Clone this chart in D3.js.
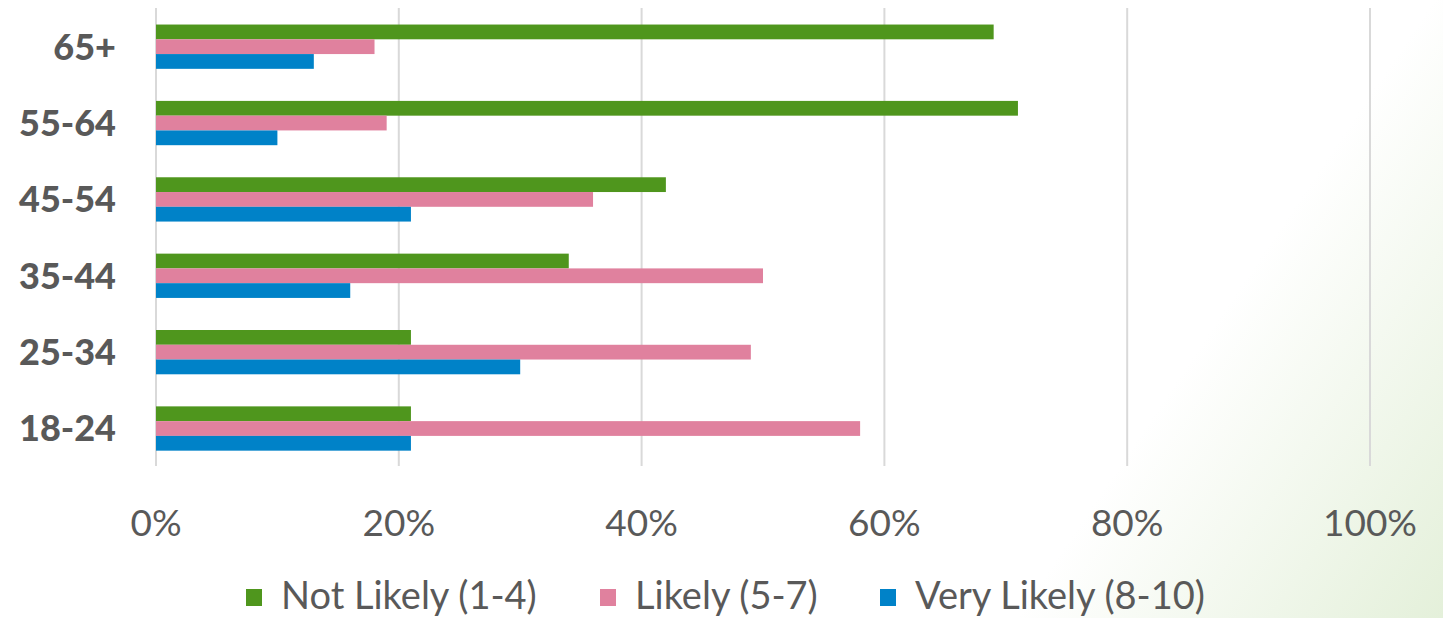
<!DOCTYPE html>
<html><head><meta charset="utf-8">
<script src="https://cdn.jsdelivr.net/npm/d3@7"></script>
<style>body{margin:0;background:#fff}svg{display:block}</style>
</head><body>
<script>
const categories = ["65+","55-64","45-54","35-44","25-34","18-24"];
const seriesNames = ["Not Likely (1-4)","Likely (5-7)","Very Likely (8-10)"];
const notLikely  = [69,71,42,34,21,21];
const likely     = [18,19,36,50,49,58];
const veryLikely = [13,10,21,16,30,21];
const tickValues = [0,20,40,60,80,100];
const colors = ["#4f961d","#e0819e","#0082c8"];

const W=1443,H=618;
const svg=d3.select("body").append("svg").attr("width",W).attr("height",H);
const defs=svg.append("defs");
const g=defs.append("linearGradient").attr("id","bg").attr("gradientUnits","userSpaceOnUse")
  .attr("x1",1150).attr("y1",420).attr("x2",1443).attr("y2",618);
g.append("stop").attr("offset","0").attr("stop-color","#ffffff");
g.append("stop").attr("offset","1").attr("stop-color","#e4f0da");
svg.append("rect").attr("width",W).attr("height",H).attr("fill","url(#bg)");

const x=d3.scaleLinear().domain([0,100]).range([156,1370]);
const y=d3.scaleBand().domain(categories).range([8.5,466.7]).paddingInner(0.42).paddingOuter(0.21);
const series=[notLikely,likely,veryLikely];
const ys=d3.scaleBand().domain([0,1,2]).range([0,y.bandwidth()]);

svg.append("g").selectAll("line").data(tickValues).join("line")
  .attr("x1",d=>x(d)).attr("x2",d=>x(d)).attr("y1",8).attr("y2",466)
  .attr("stroke","#d9d9d9").attr("stroke-width",2);

series.forEach((arr,si)=>{
  svg.append("g").selectAll("rect").data(arr).join("rect")
    .attr("x",x(0)).attr("y",(d,i)=>y(categories[i])+ys(si))
    .attr("width",d=>x(d)-x(0)).attr("height",ys.bandwidth())
    .attr("fill",colors[si]);
});

const font="Lato, 'Open Sans', sans-serif";
svg.append("g").selectAll("text").data(tickValues).join("text")
  .attr("x",d=>x(d)).attr("y",536).attr("text-anchor","middle")
  .attr("font-family",font).attr("font-size",37).attr("fill","#595959")
  .text(d=>d+"%");

svg.append("g").selectAll("text").data(categories).join("text")
  .attr("x",116).attr("y",d=>y(d)+y.bandwidth()/2).attr("dy","0.36em")
  .attr("text-anchor","end").attr("font-family",font).attr("font-weight","900")
  .attr("font-size",36).attr("fill","#595959").text(d=>d);

const legX=[246,600,880];
const lg=svg.append("g");
seriesNames.forEach((n,i)=>{
  lg.append("rect").attr("x",legX[i]).attr("y",589).attr("width",16).attr("height",17).attr("fill",colors[i]);
  lg.append("text").attr("x",legX[i]+35).attr("y",596).attr("dy","0.34em")
    .attr("font-family",font).attr("font-size",38).attr("fill","#595959").text(n);
});
</script>
</body></html>
